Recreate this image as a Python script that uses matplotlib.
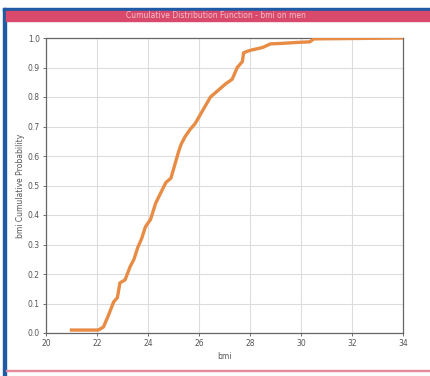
import matplotlib
matplotlib.use("Agg")
import matplotlib.pyplot as plt
from matplotlib.patches import Rectangle

bmi = [21.0, 22.05, 22.25, 22.45, 22.65, 22.8, 22.9, 23.1, 23.3, 23.45, 23.6,
       23.75, 23.9, 24.1, 24.3, 24.5, 24.7, 24.9, 25.05, 25.2, 25.3, 25.45,
       25.65, 25.85, 26.05, 26.25, 26.45, 26.65, 26.85, 27.05, 27.3, 27.5,
       27.7, 27.75, 28.0, 28.5, 28.8, 29.3, 29.85, 30.35, 30.5, 34.0]
prob = [0.01, 0.01, 0.02, 0.06, 0.105, 0.12, 0.17, 0.18, 0.225, 0.25, 0.29,
        0.32, 0.36, 0.385, 0.44, 0.475, 0.51, 0.525, 0.57, 0.615, 0.64, 0.665,
        0.69, 0.71, 0.74, 0.77, 0.80, 0.815, 0.83, 0.845, 0.86, 0.90,
        0.92, 0.95, 0.958, 0.968, 0.98, 0.982, 0.985, 0.987, 0.997, 1.0]

xticks = [20, 22, 24, 26, 28, 30, 32, 34]
yticks = [0.0, 0.1, 0.2, 0.3, 0.4, 0.5, 0.6, 0.7, 0.8, 0.9, 1.0]

W, H = 431, 376
fig = plt.figure(figsize=(W / 100, H / 100), dpi=100)
fig.patch.set_facecolor("white")

# window frame: blue border, pink title bar, pink bottom rule
fig.patches.append(Rectangle((0.008, 0.0), 0.006, 0.978, transform=fig.transFigure,
                             color="#1f5aa6", zorder=0))
fig.patches.append(Rectangle((0.008, 0.972), 0.992, 0.006, transform=fig.transFigure,
                             color="#1f5aa6", zorder=0))
fig.patches.append(Rectangle((0.014, 0.945), 0.986, 0.027, transform=fig.transFigure,
                             color="#d8496c", zorder=0))
fig.patches.append(Rectangle((0.014, 0.012), 0.986, 0.005, transform=fig.transFigure,
                             color="#e58a9c", zorder=0))
fig.text(0.5, 0.958, "Cumulative Distribution Function - bmi on men",
         ha="center", va="center", fontsize=5.5, color="#f2c2cc")

ax = fig.add_axes([46 / W, 43 / H, 357 / W, 295 / H])
ax.plot(bmi, prob, color="#e88c45", linewidth=2.4, solid_joinstyle="round", zorder=3)

ax.set_xlim(20, 34)
ax.set_ylim(0, 1.0)
ax.set_xticks(xticks)
ax.set_yticks(yticks)
ax.set_xticklabels([str(t) for t in xticks])
ax.set_yticklabels([f"{t:.1f}" for t in yticks])
ax.tick_params(labelsize=5.5, colors="#555555", length=2.5, width=0.6, pad=2)
ax.grid(True, color="#dddddd", linewidth=0.8)
ax.set_axisbelow(True)
for s in ax.spines.values():
    s.set_color("#666666")
    s.set_linewidth(0.9)

ax.set_xlabel("bmi", fontsize=5.5, color="#555555", labelpad=3)
ax.set_ylabel("bmi Cumulative Probability", fontsize=5.5, color="#555555", labelpad=2)

fig.savefig("out.png", dpi=100)
